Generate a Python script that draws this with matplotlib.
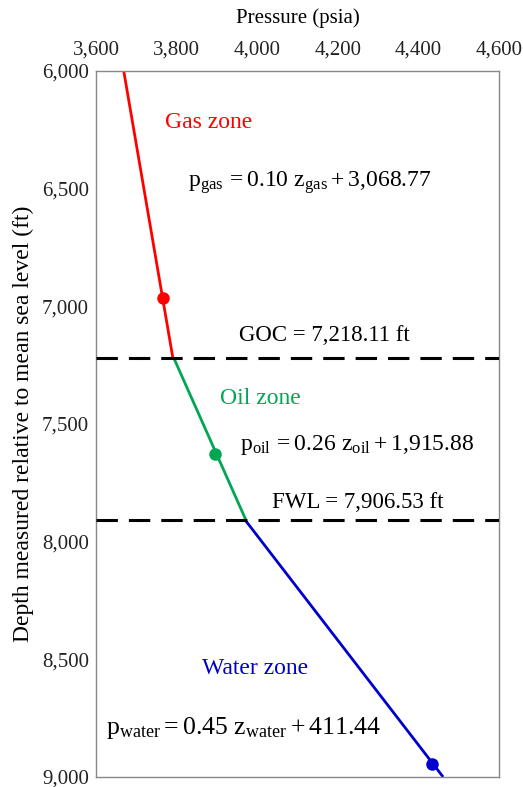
import matplotlib
matplotlib.use('Agg')
import matplotlib.pyplot as plt
from matplotlib.ticker import FuncFormatter

plt.rcParams['font.family'] = ['Liberation Serif', 'DejaVu Serif']
plt.rcParams['mathtext.fontset'] = 'custom'
plt.rcParams['mathtext.rm'] = 'Liberation Serif'
plt.rcParams['mathtext.it'] = 'Liberation Serif'

# pressure gradients per zone (end points of each segment)
gas_depth = [6000, 7218.11]
gas_pres = [3668.77, 3790.58]
oil_depth = [7218.11, 7906.53]
oil_pres = [3792.59, 3971.58]
water_depth = [7906.53, 9000]
water_pres = [3969.38, 4461.44]

# measured points
pt_pres = [3765, 3896, 4434]
pt_depth = [6965, 7627, 8945]
pt_colors = ['#ff0000', '#00a651', '#0000cc']

goc = 7218.11
fwl = 7906.53

x_ticks = [3600, 3800, 4000, 4200, 4400, 4600]
y_ticks = [6000, 6500, 7000, 7500, 8000, 8500, 9000]

fig = plt.figure(figsize=(5.23, 7.87), dpi=100)
ax = fig.add_axes([0.1836, 0.0127, 0.7705, 0.8971])

ax.plot(gas_pres, gas_depth, color='#ff0000', lw=2.0, solid_capstyle='butt')
ax.plot(oil_pres, oil_depth, color='#00a651', lw=2.0, solid_capstyle='butt')
ax.plot(water_pres, water_depth, color='#0000cc', lw=2.0, solid_capstyle='butt')
for p, z, c in zip(pt_pres, pt_depth, pt_colors):
    ax.plot(p, z, 'o', color=c, ms=8, zorder=5)

# contacts
for z in [goc, fwl]:
    ax.axhline(z, color='black', lw=2.2, dashes=(7, 3.6), zorder=4)

ax.set_xlim(3600, 4600)
ax.set_ylim(9000, 6000)
ax.xaxis.tick_top()
ax.xaxis.set_label_position('top')
ax.set_xticks(x_ticks)
ax.set_yticks(y_ticks)
fmt = FuncFormatter(lambda v, pos: f'{v:,.0f}')
ax.xaxis.set_major_formatter(fmt)
ax.yaxis.set_major_formatter(fmt)
ax.tick_params(length=0, labelsize=15, colors='#222222')
ax.tick_params(axis='x', pad=8)
ax.tick_params(axis='y', pad=5)
for s in ax.spines.values():
    s.set_color('#888888')
    s.set_linewidth(1.0)

ax.set_xlabel('Pressure (psia)', fontsize=15, labelpad=13)
ax.set_ylabel('Depth measured relative to mean sea level (ft)', fontsize=17, labelpad=6)

ax.text(3771, 6221, 'Gas zone', color='#ff0000', fontsize=17, va='center')
ax.text(3828, 6476, r'$\mathrm{p_{gas}}\,=0.10\ \mathrm{z_{gas}}+3{,}068.77$', fontsize=17, va='center')
ax.text(3955, 7126, 'GOC = 7,218.11 ft', fontsize=16.5, va='center')
ax.text(3908, 7390, 'Oil zone', color='#00a651', fontsize=17, va='center')
ax.text(3957, 7590, r'$\mathrm{p_{oil}}\,=0.26\ \mathrm{z_{oil}}+1{,}915.88$', fontsize=17, va='center')
ax.text(4037, 7834, 'FWL = 7,906.53 ft', fontsize=16.5, va='center')
ax.text(3863, 8539, 'Water zone', color='#0000cc', fontsize=17, va='center')
ax.text(3625, 8792, r'$\mathrm{p_{water}}=0.45\ \mathrm{z_{water}}+411.44$', fontsize=18.5, va='center')

fig.savefig('out.png', dpi=100)
